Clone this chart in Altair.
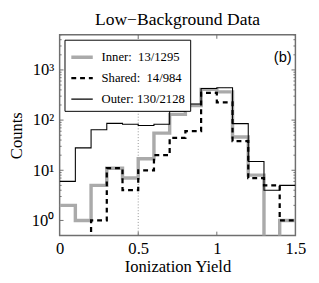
import altair as alt
import pandas as pd

# bin left edges (Ionization Yield), width 0.1
bin_left = [0.0, 0.1, 0.2, 0.3, 0.4, 0.5, 0.6, 0.7, 0.8, 0.9, 1.0, 1.1, 1.2, 1.3, 1.4]
x_end = 1.5

series_names = ["Inner:\u00a0\u00a013/1295", "Shared:\u00a0\u00a014/984", "Outer: 130/2128"]

inner_counts = [2, 1, 5, 11, 7, 17, 55, 130, 195, 410, 365, 46, 8, 0, 1]
shared_counts = [0, 0, 1, 11, 4, 10, 20, 44, 60, 350, 226, 38, 7, 5, 1]
outer_counts = [6, 28, 64, 86, 83, 78, 83, 150, 210, 428, 441, 85, 15, 4, 5]

x_tick_values = [0.5, 1.0]
y_major_ticks = [1, 10, 100, 1000]
y_minor_ticks = [m * d for d in [1, 10, 100, 1000] for m in range(2, 10) if m * d <= 5000]

colors = ["#aaaaaa", "#000000", "#000000"]
dashes = [[1, 0], [5, 4], [1, 0]]
widths = [3.5, 1.1, 1.5]

SERIF = "Liberation Serif"
W, H = 242, 206
FRAME = "#6f6f6f"

rows = []
for name, counts in zip(series_names, [inner_counts, shared_counts, outer_counts]):
    xs = bin_left + [x_end]
    cs = counts + [counts[-1]]
    for x, c in zip(xs, cs):
        rows.append({"series": name, "x": x, "count": c, "plot": c if c > 0 else 0.1})
df = pd.DataFrame(rows)

xscale = alt.Scale(domain=[0, 1.5], nice=False, zero=False)
yscale = alt.Scale(type="log", domain=[0.5, 5000], nice=False)

x_enc = alt.X("x:Q", scale=xscale,
              axis=alt.Axis(title="Ionization Yield", values=[0, 0.5, 1, 1.5], format=".1~f",
                            ticks=False, domain=False, grid=False, labelPadding=5,
                            titlePadding=3, labelFlush=False))
y_enc = alt.Y("plot:Q", scale=yscale,
              axis=alt.Axis(title="Counts", values=y_major_ticks,
                            labelExpr="datum.value == 1 ? '10⁰' : datum.value == 10 ? '10¹' : datum.value == 100 ? '10²' : '10³'",
                            ticks=False, domain=False, grid=False, labelPadding=6, titlePadding=6))
leg = alt.Legend(title=None, orient="top-left", offset=5)
color_enc = alt.Color("series:N", scale=alt.Scale(domain=series_names, range=colors), legend=leg)
dash_enc = alt.StrokeDash("series:N", scale=alt.Scale(domain=series_names, range=dashes), legend=leg)
width_enc = alt.StrokeWidth("series:N", scale=alt.Scale(domain=series_names, range=widths), legend=leg)

line_layers = []
for name in series_names:  # inner drawn first, outer on top
    line_layers.append(
        alt.Chart(df[df["series"] == name]).mark_line(interpolate="step-after", clip=True).encode(
            x=x_enc, y=y_enc, color=color_enc, strokeDash=dash_enc, strokeWidth=width_enc,
            order=alt.Order("x:Q"))
    )

vline = alt.Chart(pd.DataFrame({"x": [0.5]})).mark_rule(
    color="#777777", strokeDash=[1, 2], strokeWidth=0.8
).encode(x=alt.X("x:Q", scale=xscale))

# inward ticks on the frame
xt = pd.DataFrame({"v": x_tick_values})
xt_bottom = alt.Chart(xt).mark_rule(color=FRAME, strokeWidth=1).encode(
    x=alt.X("v:Q", scale=xscale), y=alt.value(H), y2=alt.value(H - 4))
xt_top = alt.Chart(xt).mark_rule(color=FRAME, strokeWidth=1).encode(
    x=alt.X("v:Q", scale=xscale), y=alt.value(0), y2=alt.value(4))

ymaj = pd.DataFrame({"v": y_major_ticks})
ymin = pd.DataFrame({"v": y_minor_ticks})
y_ticks = []
for d, ln in [(ymaj, 4), (ymin, 2)]:
    y_ticks.append(alt.Chart(d).mark_rule(color=FRAME, strokeWidth=1).encode(
        y=alt.Y("v:Q", scale=yscale), x=alt.value(0), x2=alt.value(ln)))
    y_ticks.append(alt.Chart(d).mark_rule(color=FRAME, strokeWidth=1).encode(
        y=alt.Y("v:Q", scale=yscale), x=alt.value(W), x2=alt.value(W - ln)))

label_b = alt.Chart(pd.DataFrame({"t": ["(b)"]})).mark_text(
    font="Liberation Sans", fontSize=15, align="center", baseline="middle", color="black"
).encode(text="t:N", x=alt.value(229), y=alt.value(23))

chart = alt.layer(vline, xt_bottom, xt_top, *y_ticks, *line_layers, label_b).properties(
    width=W, height=H,
    title=alt.TitleParams("Low\u2212Background Data"),
    autosize=alt.AutoSizeParams(type="none"),
    padding={"left": 53, "top": 24, "right": 16, "bottom": 40},
).configure_view(
    stroke=FRAME, strokeWidth=1.5
).configure_title(
    font=SERIF, fontSize=18, fontWeight="normal", color="black", anchor="middle", offset=6
).configure_axis(
    labelFont=SERIF, titleFont=SERIF,
    labelFontSize=17, titleFontSize=17, titleFontWeight="normal",
    labelColor="black", titleColor="black",
).configure_legend(
    labelFont=SERIF, labelFontSize=13, labelColor="black",
    symbolType="stroke", symbolSize=484, symbolStrokeColor="black",
    strokeColor="black", fillColor="white", padding=5, rowPadding=2,
    cornerRadius=0, labelOffset=7,
)

chart.save("out.html", embed_options={"renderer": "svg", "actions": False})
